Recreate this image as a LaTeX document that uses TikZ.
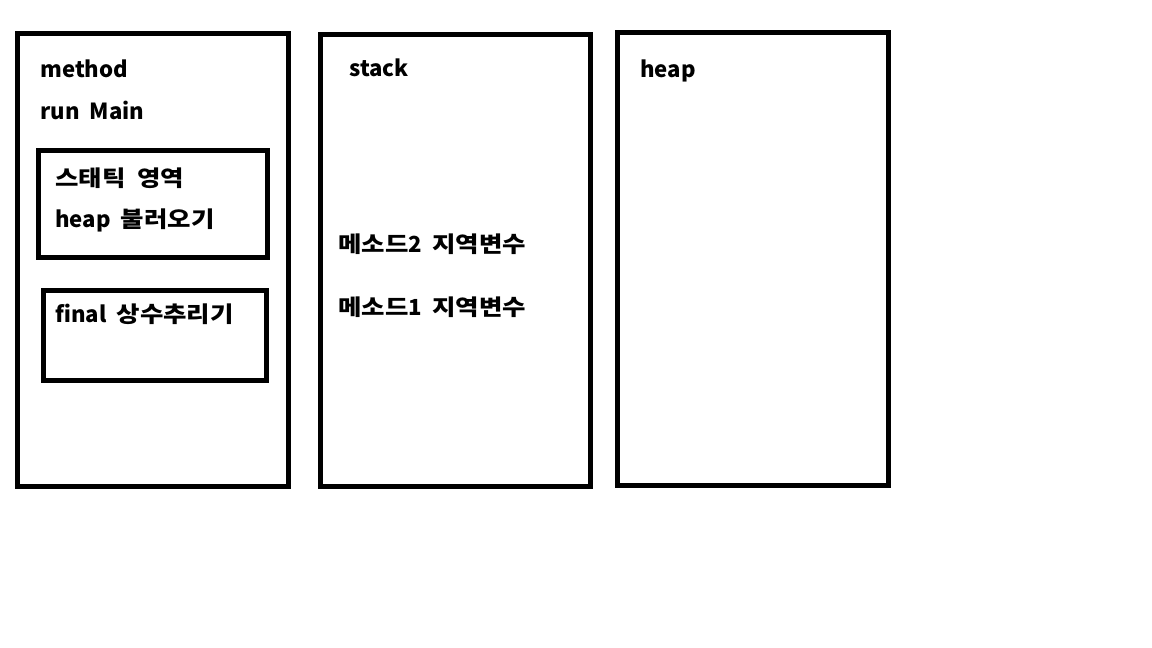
\documentclass[tikz,border=0pt]{standalone}
\usepackage{fontspec}
\setmainfont{Noto Sans CJK KR}[WordSpace=2]
\newfontfamily\kr{Noto Sans CJK KR}[FakeStretch=1.15,WordSpace=2]
\begin{document}
\begin{tikzpicture}[x=0.02cm,y=-0.02cm,
    panel/.style={draw=black,line width=0.1cm},
    memo/.style={anchor=base west,inner sep=0pt,font=\fontsize{12.6}{14}\selectfont\bfseries}]
    \useasboundingbox (0,0) rectangle (1152,648);
    % the three memory areas
    \draw[panel] (17.5,34) rectangle (288.5,486.5);% method area
    \draw[panel] (320.5,34.5) rectangle (590.5,486);% stack
    \draw[panel] (617.5,33) rectangle (888.5,485);% heap
    % boxes inside the method area
    \draw[panel] (38,151) rectangle (267,257.5);
    \draw[panel] (43,291) rectangle (266.5,380.5);
    % method area texts
    \node[memo] (method) at (40,78) {method};
    \node[memo] (runmain) at (40,120) {run Main};
    \node[memo] (static) at (55,187) {\kr 스태틱 영역};
    \node[memo] (loadheap) at (55,228) {heap {\kr 불러오기}};
    \node[memo] (final) at (55,322) {final {\kr 상수추리기}};
    % stack texts
    \node[memo] (stack) at (349,77) {stack};
    \node[memo] (local2) at (338,253) {{\kr 메소드}2 {\kr 지역변수}};
    \node[memo] (local1) at (338,316) {{\kr 메소드}1 {\kr 지역변수}};
    % heap text
    \node[memo] (heap) at (640,78) {heap};
\end{tikzpicture}
\end{document}
